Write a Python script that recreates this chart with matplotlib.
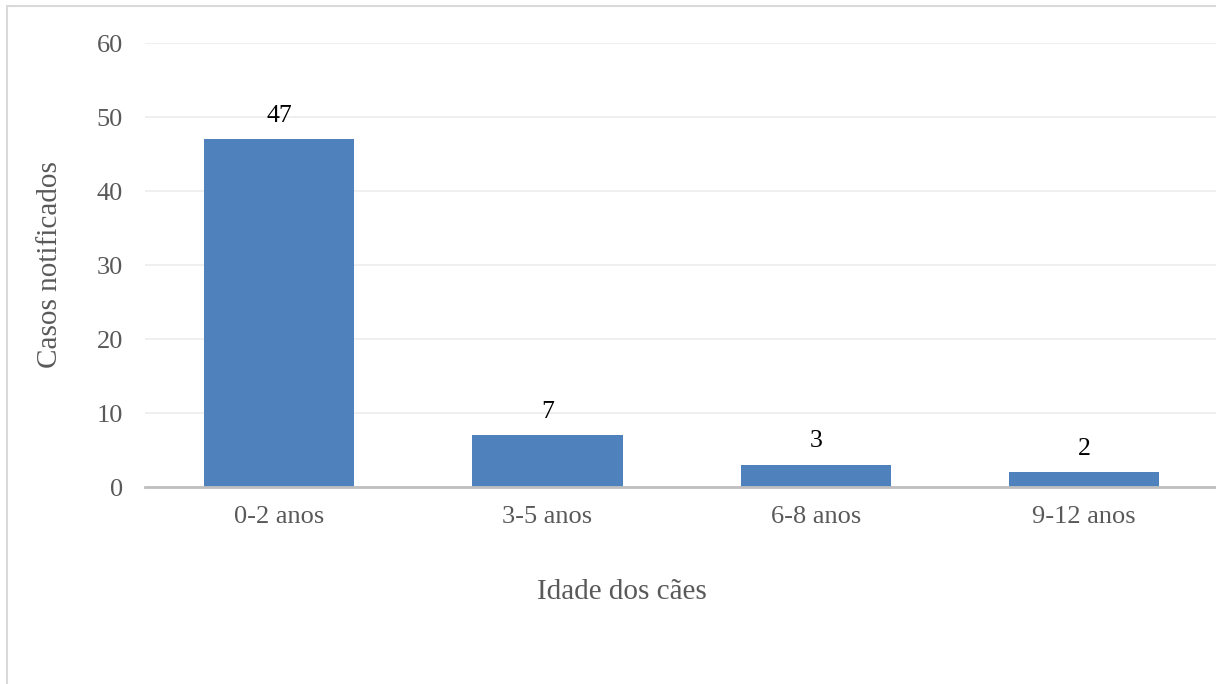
import matplotlib
matplotlib.use("Agg")
import matplotlib.pyplot as plt
from matplotlib.patches import Rectangle

# data
categories = ["0-2 anos", "3-5 anos", "6-8 anos", "9-12 anos"]
cases = [47, 7, 3, 2]
y_ticks = [0, 10, 20, 30, 40, 50, 60]

BAR = "#4f81bd"
TICK = "#595959"
GRID = "#ececec"
BASE = "#bfbfbf"

plt.rcParams["font.family"] = ["Liberation Serif", "DejaVu Serif"]

fig = plt.figure(figsize=(12.16, 6.84), dpi=100)
fig.patch.set_facecolor("white")

# light frame around the chart (right and bottom fall outside the image)
fig.patches.append(Rectangle((7 / 1216, -0.1), 1.2, (684 - 6) / 684 + 0.1,
                             transform=fig.transFigure, fill=False,
                             edgecolor="#d9d9d9", linewidth=1.5))

ax = fig.add_axes([145 / 1216, 197 / 684, 1 - 145 / 1216 + 0.002, 444 / 684])
x = range(len(categories))
bars = ax.bar(x, cases, width=0.56, color=BAR, zorder=3)
for b, v in zip(bars, cases):
    ax.annotate(str(v), (b.get_x() + b.get_width() / 2, v), xytext=(0, 17),
                textcoords="offset points", ha="center", va="center",
                fontsize=18.5, color="black")

ax.set_xlim(-0.5, len(categories) - 0.5)
ax.set_ylim(0, 60)
ax.set_yticks(y_ticks)
ax.set_xticks(list(x), categories)
ax.grid(axis="y", color=GRID, linewidth=1.2, zorder=0)
ax.set_axisbelow(True)
for side in ("top", "right", "left"):
    ax.spines[side].set_visible(False)
ax.spines["bottom"].set_color(BASE)
ax.spines["bottom"].set_linewidth(2)
ax.spines["bottom"].set_zorder(4)
ax.tick_params(length=0, labelsize=19, colors=TICK)
ax.tick_params(axis="y", pad=16)
ax.tick_params(axis="x", pad=14)

fig.text(50 / 1216, (684 - 265) / 684, "Casos notificados", rotation=90,
         ha="center", va="center", fontsize=21, color=TICK)
fig.text(622 / 1216, (684 - 592) / 684, "Idade dos cães",
         ha="center", va="center", fontsize=21, color=TICK)

fig.savefig("out.png", dpi=100, facecolor="white")
